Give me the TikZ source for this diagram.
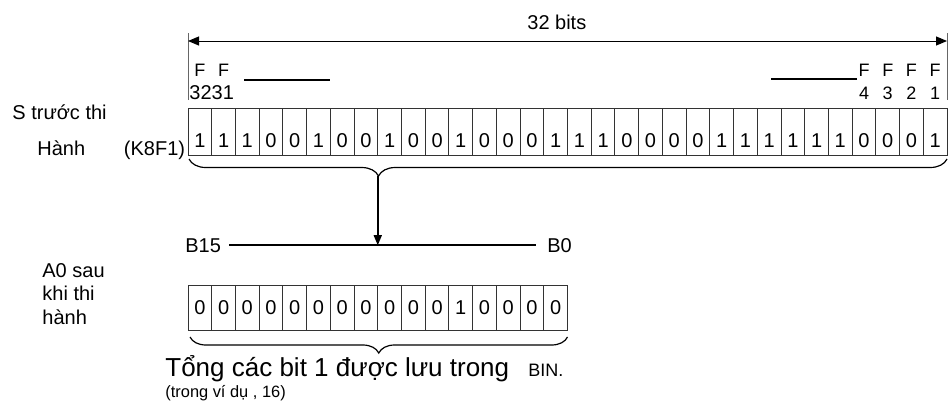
\documentclass[tikz,border=0pt]{standalone}
\usepackage{fontspec}
\setmainfont{Liberation Sans}
\usetikzlibrary{arrows.meta, calc, decorations.pathreplacing}
\newcommand{\txtfont}{\fontsize{10}{12}\selectfont}
\newcommand{\tagfont}{\fontsize{9}{11}\selectfont}
\newcommand{\sumfont}{\fontsize{13}{15.5}\selectfont}
\newcommand{\notefont}{\fontsize{8.2}{9.5}\selectfont}
\newcommand{\binfont}{\fontsize{9}{10.5}\selectfont}
\tikzset{
  bitcell/.style={
    rectangle, draw=black!80, line width=0.5pt,
    minimum width=11.86pt, minimum height=23.5pt,
    inner sep=0pt, outer sep=0pt,
    text height=15.5pt, text depth=0pt, font=\txtfont
  },
  sumcell/.style={
    rectangle, draw=black!80, line width=0.5pt,
    minimum width=11.86pt, minimum height=22.5pt,
    inner sep=0pt, outer sep=0pt, font=\txtfont
  },
  lbl/.style={inner sep=0pt, anchor=base west, font=\txtfont},
  ftag/.style={inner sep=0pt, font=\tagfont},
  tick/.style={draw=black!60, line width=0.5pt},
  dimarrow/.style={{Triangle[length=5.5pt,width=4.5pt]}-{Triangle[length=5.5pt,width=4.5pt]}, line width=0.5pt},
  flow/.style={-{Triangle[length=5pt,width=4pt]}, line width=0.8pt},
  bus/.style={line width=0.9pt},
  fline/.style={line width=1.2pt},
  brace/.style={decorate, line width=0.6pt,
    decoration={brace, mirror, amplitude=#1}}
}

\begin{document}
\begin{tikzpicture}[x=0.5pt, y=-0.5pt]
  \useasboundingbox (0,0) rectangle (948,418);

  % source register (32 bits)
  \foreach \b [count=\i] in {1,1,1,0,0,1,0,0,1,0,0,1,0,0,0,1,1,1,0,0,0,0,1,1,1,1,1,1,0,0,0,1}
    \node[bitcell] (c\i) at ({188+(\i-0.5)*23.72},131.5) {\b};

  % result register (16 bits)
  \foreach \b [count=\i] in {0,0,0,0,0,0,0,0,0,0,0,1,0,0,0,0}
    \node[sumcell] (d\i) at ({188+(\i-0.5)*23.72},307.5) {\b};

  % width marker
  \coordinate (dimL) at ($(c1.north west)+(0,-67)$);
  \coordinate (dimR) at ($(c32.north east)+(0,-67)$);
  \draw[tick] ($(c1.north west)+(0,-8)$) -- ($(c1.north west)+(0,-75)$);
  \draw[tick] ($(c32.north east)+(0,-8)$) -- ($(c32.north east)+(0,-75)$);
  \draw[dimarrow] (dimL) -- (dimR);
  \node[lbl] (bits) at (527,29) {32 bits};

  % bit tags
  \node[ftag] (f32) at (c1 |- 0,70.5) {F};
  \node[ftag] (f31) at (c2 |- 0,70.5) {F};
  \node[ftag, font=\txtfont] (n3231) at (c1.east |- 0,92.4) {3231};
  \node[ftag] (f4) at (c29 |- 0,70.5) {F};
  \node[ftag] (f3) at (c30 |- 0,70.5) {F};
  \node[ftag] (f2) at (c31 |- 0,70.5) {F};
  \node[ftag] (f1) at (c32 |- 0,70.5) {F};
  \node[ftag] (n4) at (c29 |- 0,93) {4};
  \node[ftag] (n3) at (c30 |- 0,93) {3};
  \node[ftag] (n2) at (c31 |- 0,93) {2};
  \node[ftag] (n1) at (c32 |- 0,93) {1};
  \draw[fline] ($(f31.south east)+(15,3)$) -- ++(86,0);
  \draw[fline] ($(f4.south west)+(-1,2)$) -- ++(-86,0);

  % labels
  \node[lbl] (sbef) at (12,119.5) {S trước thi};
  \node[lbl] (shanh) at (37,155.5) {Hành};
  \node[lbl, anchor=base east] (konst) at (185.5,155.5) {(K8F1)};
  \node[lbl] (aft1) at (42,277) {A0 sau};
  \node[lbl] (aft2) at (42,300) {khi thi};
  \node[lbl] (aft3) at (42,324) {hành};

  % braces
  \draw[brace=8.5pt] ($(c1.south west)+(1,4)$) -- ($(c32.south east)+(0,4)$)
    [decoration={aspect=0.25}];
  \draw[brace=8pt] ($(d1.south west)+(2,7)$) -- ($(d16.south east)+(0,7)$);
  \coordinate (tipA) at ($($(c1.south west)!0.25!(c32.south east)$)+(0,21)$);

  % bus
  \node[lbl] (b15) at (185,252) {B15};
  \node[lbl] (b0) at (547,252) {B0};
  \draw[bus, shorten <=4pt, shorten >=5.5pt] (b15.east) -- (b15.east -| b0.west);
  \draw[flow] (tipA) -- (tipA |- b15.east);

  % result text
  \node[lbl, font=\sumfont] (sumtxt) at (165,376) {Tổng các bit 1 được lưu trong};
  \node[lbl, font=\binfont] (bin) at (528,376) {BIN.};
  \node[lbl, font=\notefont] (note) at (165,397) {(trong ví dụ , 16)};
\end{tikzpicture}
\end{document}
